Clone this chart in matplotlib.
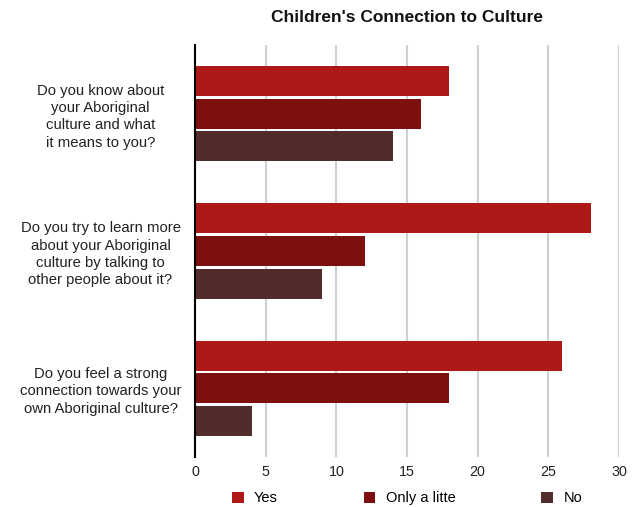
import numpy as np
import matplotlib.pyplot as plt
from matplotlib.patches import Patch

plt.rcParams['font.family'] = ['Liberation Sans', 'DejaVu Sans']

questions = [
    "Do you know about\nyour Aboriginal\nculture and what\nit means to you?",
    "Do you try to learn more\nabout your Aboriginal\nculture by talking to\nother people about it?",
    "Do you feel a strong\nconnection towards your\nown Aboriginal culture?",
]
series_names = ["Yes", "Only a litte", "No"]
yes = [18, 28, 26]
only_little = [16, 12, 18]
no = [14, 9, 4]
colors = ["#ae1917", "#7d0f0e", "#522b2b"]

fig = plt.figure(figsize=(6.36, 5.07), dpi=100)
ax = fig.add_axes([0.3066, 0.0986, 0.6667, 0.8126])

y = np.arange(len(questions))
step = 0.237
h = 0.218
for i, vals in enumerate([yes, only_little, no]):
    ax.barh(y + (i - 1) * step, vals, height=h, color=colors[i], zorder=3)

ax.set_xlim(0, 30)
ax.set_ylim(2.5, -0.5)
ax.set_xticks(range(0, 31, 5))
ax.xaxis.grid(True, color="#d0d0d0", linewidth=1.5, zorder=0)
for s in ["top", "right", "bottom"]:
    ax.spines[s].set_visible(False)
ax.spines["left"].set_color("black")
ax.spines["left"].set_linewidth(1.5)
ax.spines["left"].set_zorder(4)
ax.tick_params(axis="x", length=0, labelsize=10.3, labelcolor="#222222", pad=6)

ax.set_yticks(y)
ax.set_yticklabels(questions, fontsize=10.7, color="#222222", ha="center",
                   linespacing=1.3)
ax.tick_params(axis="y", length=0, pad=68)

fig.text(0.64, 0.965, "Children's Connection to Culture", ha="center",
         va="center", fontsize=12.5, fontweight="bold", color="#111111")

handles = [Patch(facecolor=c) for c in colors]
fig.legend(handles, series_names, loc="center", bbox_to_anchor=(0.64, 0.017),
           ncol=3, frameon=False, fontsize=10.5, handlelength=0.8,
           handleheight=0.8, handletextpad=0.7, columnspacing=5.9)

fig.savefig("out.png", dpi=100)
